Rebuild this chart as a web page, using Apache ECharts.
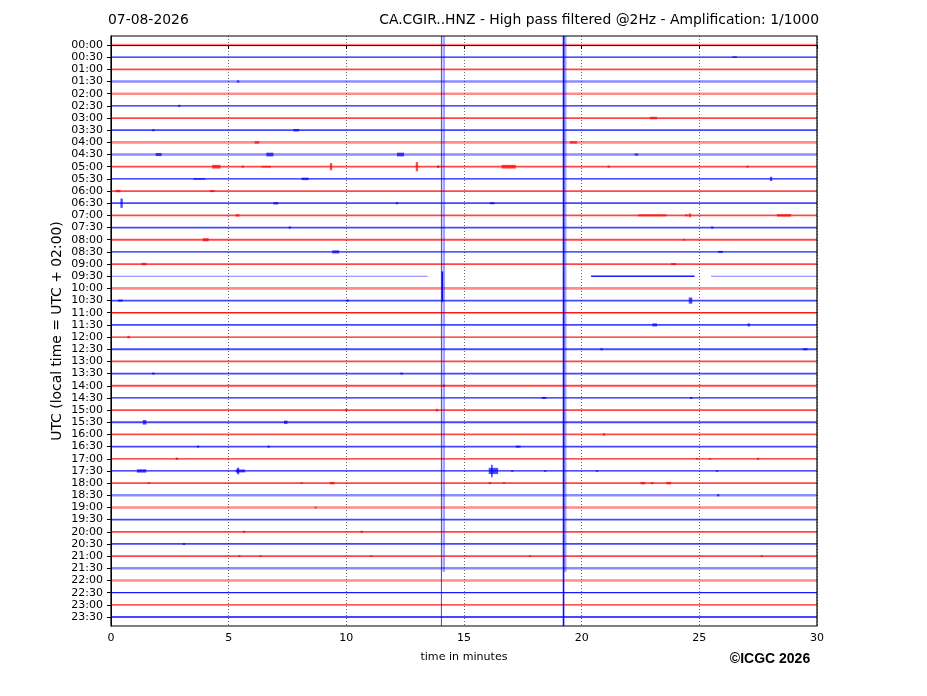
<!DOCTYPE html>
<html><head><meta charset="utf-8">
<script src="https://cdn.jsdelivr.net/npm/echarts@6/dist/echarts.min.js"></script>
<style>html,body{margin:0;padding:0;background:#fff}#c{width:927px;height:696px}</style>
</head><body><div id="c"></div>
<script>
// ---- data ----
const rowLabels = ['00:00','00:30','01:00','01:30','02:00','02:30','03:00','03:30','04:00','04:30',
  '05:00','05:30','06:00','06:30','07:00','07:30','08:00','08:30','09:00','09:30',
  '10:00','10:30','11:00','11:30','12:00','12:30','13:00','13:30','14:00','14:30',
  '15:00','15:30','16:00','16:30','17:00','17:30','18:00','18:30','19:00','19:30',
  '20:00','20:30','21:00','21:30','22:00','22:30','23:00','23:30'];
const xTicks = [0,5,10,15,20,25,30];
// background noise level of each trace (0 quiet ... 2 noisy)
const noiseLevel = [2,0,1,2,2,0,1,1,2,2, 1,0,1,1,1,1,1,0,1,3, 2,1,0,1,0,1,1,1,1,0,
  1,1,1,1,0,0,1,2,2,1, 1,1,1,2,2,0,0,1];
// 09:30 trace has gaps: [row, startMin, endMin, level]
const gapRowSegments = [[19,0,13.45,3],[19,20.4,24.8,0],[19,25.5,30,3]];
// bursts: [row, startMin, endMin, amplitude (rows)]
const events = [
  [1,26.4,26.6,0.08],[3,5.35,5.45,0.1],[5,2.85,2.95,0.1],[6,22.9,23.2,0.12],
  [7,1.75,1.85,0.1],[7,7.75,8.0,0.12],[8,6.1,6.3,0.12],[8,19.5,19.8,0.12],
  [9,1.9,2.15,0.15],[9,6.6,6.9,0.18],[9,12.15,12.45,0.18],[9,22.25,22.4,0.1],
  [10,4.3,4.65,0.18],[10,5.55,5.65,0.1],[10,6.4,6.8,0.08],[10,9.3,9.4,0.35],[10,12.95,13.05,0.45],
  [10,13.85,13.95,0.12],[10,16.6,17.2,0.18],[10,21.1,21.2,0.1],[10,27.0,27.1,0.1],
  [11,3.5,4.0,0.08],[11,8.1,8.4,0.12],[11,28.0,28.1,0.2],
  [12,0.2,0.4,0.12],[12,4.2,4.4,0.1],
  [13,0.4,0.5,0.45],[13,6.9,7.1,0.12],[13,12.1,12.2,0.1],[13,16.1,16.3,0.1],
  [14,5.3,5.45,0.12],[14,22.4,23.6,0.1],[14,24.4,24.5,0.1],[14,24.55,24.65,0.18],[14,28.3,28.9,0.12],
  [15,7.55,7.65,0.1],[15,25.5,25.6,0.1],[16,3.9,4.15,0.15],[16,24.3,24.4,0.08],
  [17,9.4,9.7,0.15],[17,25.8,26.0,0.1],[18,1.3,1.5,0.12],[18,23.8,24.0,0.1],
  [21,0.3,0.5,0.1],[21,10.0,10.1,0.1],[21,24.55,24.7,0.3],
  [23,23.0,23.2,0.15],[23,27.05,27.15,0.15],[24,0.7,0.8,0.12],
  [25,20.8,20.9,0.1],[25,29.4,29.6,0.1],[27,1.75,1.85,0.1],[27,12.3,12.4,0.1],
  [28,14.1,14.2,0.1],[29,18.3,18.5,0.1],[29,24.6,24.7,0.1],
  [30,9.95,10.05,0.12],[30,13.8,13.9,0.12],
  [31,1.35,1.5,0.22],[31,7.35,7.5,0.16],[32,20.9,21.0,0.12],
  [33,3.65,3.75,0.1],[33,6.65,6.75,0.1],[33,17.2,17.4,0.1],
  [34,2.75,2.85,0.12],[34,24.85,24.95,0.08],[34,25.4,25.5,0.08],[34,27.45,27.55,0.1],
  [35,1.1,1.5,0.16],[35,5.3,5.7,0.14],[35,5.35,5.45,0.32],[35,16.05,16.45,0.3],[35,16.15,16.22,0.6],
  [35,17.0,17.1,0.08],[35,18.4,18.5,0.08],[35,20.6,20.7,0.08],[35,25.7,25.8,0.08],
  [36,1.55,1.65,0.08],[36,8.05,8.15,0.08],[36,9.3,9.5,0.12],[36,16.05,16.15,0.1],[36,16.65,16.75,0.08],
  [36,22.5,22.7,0.12],[36,22.95,23.05,0.1],[36,23.6,23.8,0.12],
  [37,25.75,25.85,0.1],[38,8.65,8.75,0.08],
  [40,5.6,5.7,0.1],[40,10.6,10.7,0.1],[41,3.05,3.15,0.1],
  [42,5.4,5.5,0.08],[42,6.3,6.4,0.08],[42,11.0,11.1,0.08],[42,17.75,17.85,0.08],[42,27.6,27.7,0.08]
];
// long vertical streaks: [minute, fromRow, toRow, kind]
const verticalStreaks = [
  [14.04,-0.74,47.74,0],[14.14,-0.74,43.3,1],[14.08,18.6,21.1,2],
  [19.23,-0.74,47.74,2],[19.3,-0.74,43.3,1]
];

// ---- build ----
const RED = '#ff0000', BLUE = '#0000ff';
const levelStyle = [{w:1.3,o:0.9},{w:1.8,o:0.72},{w:2.6,o:0.45},{w:1.1,o:0.5}];
const streakStyle = [{w:1,o:0.75},{w:2.6,o:0.35},{w:1.6,o:0.95}];
const traceSegments = [];
rowLabels.forEach((l, r) => {
  if (r === 19) return;
  traceSegments.push([0, r, 30, noiseLevel[r]]);
});
gapRowSegments.forEach(s => traceSegments.push([s[1], s[0], s[2], s[3]]));
const eventData = events.map(e => [e[1], e[0], e[2], e[3]]);
const streakData = verticalStreaks.map(v => [v[0], v[1], v[2], v[3]]);
const rowIdx = rowLabels.map((l, i) => i);
const FONT = 'DejaVu Sans';

const chart = echarts.init(document.getElementById('c'), null, {renderer: 'canvas'});
chart.setOption({
  animation: false,
  backgroundColor: '#fff',
  grid: {left: 111, right: 110, top: 36, bottom: 70, show: true, borderColor: '#000', borderWidth: 1.2, backgroundColor: 'transparent', z: 10},
  xAxis: {
    type: 'value', min: 0, max: 30, interval: 5,
    axisLine: {show: true, lineStyle: {color: '#000', width: 1}},
    axisTick: {show: true, inside: false, length: 4, lineStyle: {color: '#000'}},
    axisLabel: {color: '#000', fontSize: 11, fontFamily: FONT, margin: 7,
      formatter: v => xTicks.indexOf(v) >= 0 ? String(v) : ''},
    splitLine: {show: true, lineStyle: {color: '#444', type: [1, 2], width: 0.8}}
  },
  yAxis: {
    type: 'value', inverse: true, min: -0.74, max: 47.74,
    axisLine: {show: true, lineStyle: {color: '#000', width: 1}},
    axisTick: {show: true, inside: false, length: 4, customValues: rowIdx, lineStyle: {color: '#000'}},
    axisLabel: {color: '#000', fontSize: 11, fontFamily: FONT, margin: 8, customValues: rowIdx,
      formatter: v => rowLabels[Math.round(v)]},
    splitLine: {show: false}
  },
  graphic: [
    {type: 'text', left: 108, top: 13, style: {text: '07-08-2026', font: '13.9px "DejaVu Sans"', fill: '#000'}},
    {type: 'text', right: 108, top: 13, style: {text: 'CA.CGIR..HNZ - High pass filtered @2Hz - Amplification: 1/1000', font: '13.9px "DejaVu Sans"', fill: '#000'}},
    {type: 'text', x: 57, y: 331, rotation: Math.PI / 2, style: {text: 'UTC (local time = UTC + 02:00)', font: '13.9px "DejaVu Sans"', fill: '#000', align: 'center', verticalAlign: 'middle'}},
    {type: 'text', x: 464, y: 657, style: {text: 'time in minutes', font: '11.1px "DejaVu Sans"', fill: '#000', align: 'center', verticalAlign: 'middle'}},
    {type: 'text', x: 770, y: 659, style: {text: '\u00a9ICGC 2026', font: 'bold 14px "Liberation Sans"', fill: '#000', align: 'center', verticalAlign: 'middle'}}
  ],
  series: [
    {
      type: 'custom', name: 'traces', data: traceSegments, clip: true,
      encode: {x: 0, y: 1},
      renderItem: (params, api) => {
        const s = api.value(0), r = api.value(1), e = api.value(2), lv = api.value(3);
        const p1 = api.coord([s, r]), p2 = api.coord([e, r]);
        const st = levelStyle[lv];
        return {type: 'line', shape: {x1: p1[0], y1: p1[1], x2: p2[0], y2: p2[1]},
          style: {stroke: r % 2 ? BLUE : RED, lineWidth: st.w, opacity: st.o}};
      }
    },
    {
      type: 'custom', name: 'events', data: eventData, clip: true,
      encode: {x: 0, y: 1},
      renderItem: (params, api) => {
        const s = api.value(0), r = api.value(1), e = api.value(2), a = api.value(3) * 0.85;
        const p1 = api.coord([s, r - a]), p2 = api.coord([e, r + a]);
        const w = Math.max(1.2, p2[0] - p1[0]);
        return {type: 'rect', shape: {x: p1[0], y: p1[1], width: w, height: p2[1] - p1[1]},
          style: {fill: r % 2 ? BLUE : RED, opacity: 0.7}};
      }
    },
    {
      type: 'custom', name: 'streaks', data: streakData, clip: true,
      encode: {x: 0, y: 1},
      renderItem: (params, api) => {
        const m = api.value(0), a = api.value(1), b = api.value(2), k = api.value(3);
        const p1 = api.coord([m, a]), p2 = api.coord([m, b]);
        const st = streakStyle[k];
        return {type: 'line', shape: {x1: p1[0], y1: p1[1], x2: p2[0], y2: p2[1]},
          style: {stroke: BLUE, lineWidth: st.w, opacity: st.o}};
      }
    }
  ]
});
</script>
</body></html>
